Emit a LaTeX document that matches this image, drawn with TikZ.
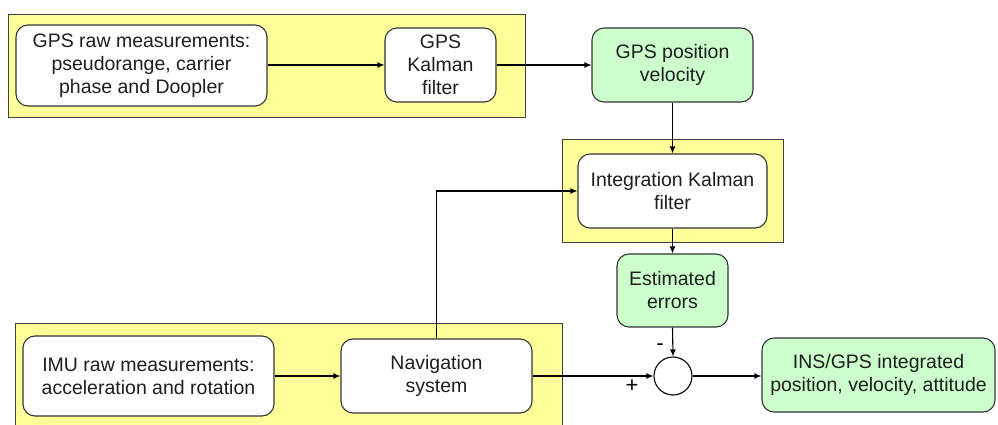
\documentclass[tikz,border=0pt]{standalone}
\usepackage{fontspec}
\setmainfont{Liberation Sans}
\usetikzlibrary{arrows.meta}
\definecolor{panelfill}{RGB}{255,255,153}
\definecolor{panelline}{RGB}{64,64,64}
\definecolor{outfill}{RGB}{204,255,204}
\definecolor{textgray}{RGB}{30,30,30}
\tikzset{
  panel/.style={draw=panelline, fill=panelfill, line width=0.9pt},
  procbox/.style={draw=black!80, fill=white, rounded corners=12pt, line width=1.1pt,
    align=center, inner sep=2pt, text=textgray,
    font=\fontsize{19.5}{23}\selectfont},
  outbox/.style={procbox, fill=outfill},
  flow/.style={draw=black, line width=1.1pt, -{Latex[length=7pt,width=6pt]}},
  sumnode/.style={circle, draw=black, fill=white, line width=1.1pt, minimum size=38pt, inner sep=0pt},
  signlbl/.style={font=\fontsize{22}{24}\selectfont, text=black, inner sep=0pt}
}
\begin{document}
\begin{tikzpicture}[x=1pt,y=-1pt]
\useasboundingbox (0,0) rectangle (998,425);
\begin{scope}
\clip (0,0) rectangle (998,425);
% grouping panels
\draw[panel] (8,14) rectangle (525,117);
\draw[panel] (562,139) rectangle (783,242);
\draw[panel] (15,323) rectangle (562,440);
\end{scope}

% GPS chain
\node[procbox, minimum width=251pt, minimum height=81pt] (gpsraw) at (141.5,65.5)
  {GPS raw measurements:\\pseudorange, carrier\\phase and Doopler};
\node[procbox, minimum width=111pt, minimum height=74pt] (gpskf) at (440.5,65)
  {GPS\\Kalman\\filter};
\node[outbox, minimum width=161pt, minimum height=74pt] (gpspv) at (672.5,65)
  {GPS position\\velocity};

% integration filter and its output
\node[procbox, minimum width=189pt, minimum height=74pt] (intkf) at (672.5,191)
  {Integration Kalman\\filter};
\node[outbox, minimum width=111pt, minimum height=73pt] (esterr) at (672.5,290.5)
  {Estimated\\errors};

% inertial chain
\node[procbox, minimum width=251pt, minimum height=80pt] (imu) at (148.5,376)
  {IMU raw measurements:\\acceleration and rotation};
\node[procbox, minimum width=191pt, minimum height=74pt] (nav) at (436.5,376)
  {Navigation\\system};
\node[sumnode] (sum) at (673,376) {};
\node[outbox, minimum width=233pt, minimum height=74pt] (ins) at (878.5,375)
  {INS/GPS integrated\\position, velocity, attitude};

% sign labels at the summing junction
\node[signlbl] (minus) at (660,347) {-};
\node[signlbl] (plus) at (632,386) {+};

% connectors
\coordinate (navup) at (nav.north |- intkf.west);
\draw[flow] (gpsraw.east |- gpskf.west) -- (gpskf.west);
\draw[flow] (gpskf.east) -- (gpspv.west);
\draw[flow] (gpspv.south) -- (intkf.north);
\draw[flow] (intkf.south) -- (esterr.north);
\draw[flow] (esterr.south) -- (sum.north);
\draw[flow] (imu.east) -- (nav.west);
\draw[flow] (nav.east) -- (sum.west);
\draw[flow] (sum.east) -- (ins.west |- sum.east);
\draw[flow] (nav.north) -- (navup) -- (intkf.west);
\end{tikzpicture}
\end{document}
